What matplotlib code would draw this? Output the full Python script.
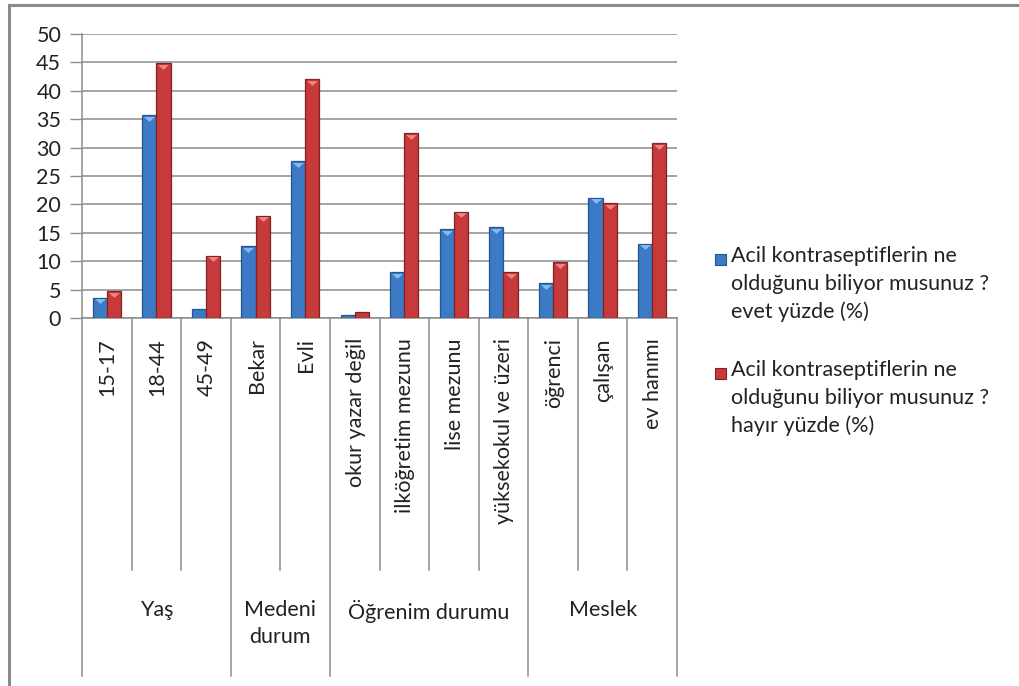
import matplotlib
matplotlib.use("Agg")
import matplotlib.pyplot as plt
import matplotlib.transforms as mtransforms
from matplotlib.patches import Rectangle
from matplotlib.path import Path
import numpy as np

plt.rcParams['font.family'] = ['Lato', 'DejaVu Sans']

categories = ["15-17", "18-44", "45-49", "Bekar", "Evli", "okur yazar değil",
              "ilköğretim mezunu", "lise mezunu", "yüksekokul ve üzeri",
              "öğrenci", "çalışan", "ev hanımı"]
groups = ["Yaş", "Medeni\ndurum", "Öğrenim durumu", "Meslek"]
group_sizes = [3, 2, 4, 3]
evet = [3.6, 35.7, 1.5, 12.6, 27.6, 0.6, 8.1, 15.6, 16.0, 6.1, 21.2, 13.1]
hayir = [4.7, 44.9, 11.0, 18.0, 42.0, 1.1, 32.5, 18.7, 8.1, 9.8, 20.2, 30.8]
series_labels = ["Acil kontraseptiflerin ne\nolduğunu biliyor musunuz ?\nevet yüzde (%)",
                 "Acil kontraseptiflerin ne\nolduğunu biliyor musunuz ?\nhayır yüzde (%)"]
yticks = [0, 5, 10, 15, 20, 25, 30, 35, 40, 45, 50]

W, H = 1019, 686
fig = plt.figure(figsize=(W / 100, H / 100), dpi=100)

def fx(px):
    return px / W

def fy(py):
    return 1 - py / H

# outer chart frame (left and top visible)
fig.add_artist(plt.Line2D([fx(9), fx(9)], [fy(5), 0], color='#8a8a8a', lw=2.2))
fig.add_artist(plt.Line2D([fx(9), 1], [fy(5), fy(5)], color='#8a8a8a', lw=2.2))

left, right, top, bottom = 82, 677, 34, 318
ax = fig.add_axes([fx(left), fy(bottom), fx(right - left), (bottom - top) / H])

n = len(categories)
x = np.arange(n)
bw = 0.285
blue = '#3C7AC6'
red = '#C63A3B'
blue_edge = '#25558F'
red_edge = '#822222'
ax.bar(x - bw / 2, evet, bw, color=blue, edgecolor=blue_edge, linewidth=0.9, zorder=3)
ax.bar(x + bw / 2, hayir, bw, color=red, edgecolor=red_edge, linewidth=0.9, zorder=3)

# bevel highlight (flat downward triangle) at the top of each bar
tri = Path([(-1, 0.45), (1, 0.45), (0, -0.45), (-1, 0.45)],
           [Path.MOVETO, Path.LINETO, Path.LINETO, Path.CLOSEPOLY])
ev = np.array(evet)
hv = np.array(hayir)
mb = ev >= 2
mr = hv >= 2
ax.scatter((x - bw / 2)[mb], ev[mb] - 0.65, marker=tri, s=60, color='#86BBF2',
           zorder=4, linewidths=0)
ax.scatter((x + bw / 2)[mr], hv[mr] - 0.65, marker=tri, s=60, color='#F08282',
           zorder=4, linewidths=0)

ax.set_xlim(-0.5, n - 0.5)
ax.set_ylim(0, 50)
ax.set_yticks(yticks)
ax.set_yticklabels([str(v) for v in yticks], fontsize=15.5, color='#222222')
ax.tick_params(axis='y', length=9, width=1, color='#8c8c8c', pad=6)
ax.set_xticks([])
ax.yaxis.grid(True, color='#8c8c8c', lw=1.1, zorder=0)
for s in ['top', 'right']:
    ax.spines[s].set_visible(False)
ax.spines['left'].set_color('#8c8c8c')
ax.spines['bottom'].set_color('#8c8c8c')
ax.spines['left'].set_linewidth(1.1)
ax.spines['bottom'].set_linewidth(1.1)

# category axis below
trans = mtransforms.blended_transform_factory(ax.transData, ax.transAxes)
ph = bottom - top

def ay(py):
    return (bottom - py) / ph

inner_end = ay(570)
outer_end = ay(676)
bounds = np.cumsum([0] + group_sizes)
for i in range(n + 1):
    xb = i - 0.5
    end = outer_end if i in bounds else inner_end
    ax.plot([xb, xb], [0, end], transform=trans, color='#8c8c8c', lw=1.1,
            clip_on=False)

for i, c in enumerate(categories):
    ax.text(i + 0.02, ay(338), c, transform=trans, rotation=90, ha='center', va='top',
            fontsize=15.5, color='#222222', clip_on=False)

for g, (a, b) in zip(groups, zip(bounds[:-1], bounds[1:])):
    cx = (a + b - 1) / 2
    ax.text(cx, ay(600), g, transform=trans, ha='center', va='top',
            fontsize=15.5, color='#222222', linespacing=1.45, clip_on=False)

# legend
leg_tops = [246, 360]
for lab, col, ec, ty in zip(series_labels, [blue, red], [blue_edge, red_edge], leg_tops):
    fig.add_artist(Rectangle((fx(715), fy(ty + 19)), fx(11), 11 / H,
                             facecolor=col, edgecolor=ec, lw=0.8))
    fig.text(fx(731), fy(ty), lab, ha='left', va='top', fontsize=15.5,
             color='#222222', linespacing=1.48)

fig.savefig('out.png', dpi=100)
